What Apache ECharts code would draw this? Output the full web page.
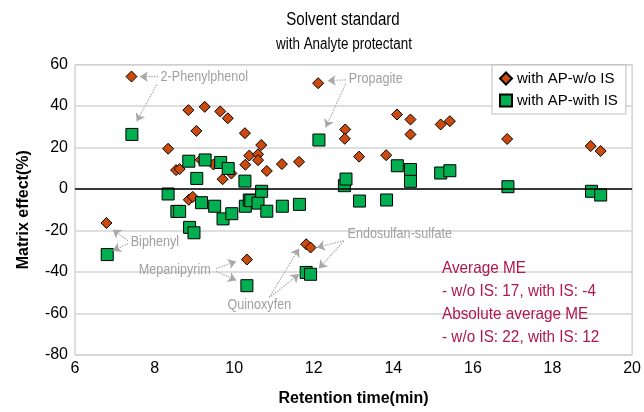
<!DOCTYPE html>
<html>
<head>
    <meta charset="utf-8">
    <title>Solvent standard</title>
    <style type="text/css">
        html, body { margin: 0; padding: 0; width: 644px; height: 412px; background: #fff; }
        #main { width: 644px; height: 412px; }
    </style>
    <script src="https://cdn.jsdelivr.net/npm/echarts@6/dist/echarts.min.js"></script>
</head>
<body>
<div id="main"></div>
<script type="text/javascript">
    // retention time (min), matrix effect (%)
    var woIS = [
        [6.79, -16.4], [7.42, 54.2], [8.34, 19.4], [8.54, 9.1], [8.63, 9.6],
        [8.85, 38.0], [8.86, -5.2], [8.96, -3.8], [9.05, 28.0], [9.16, 14.1],
        [9.26, 39.6], [9.48, 11.8], [9.65, 37.4], [9.71, 4.7], [9.84, 34.1],
        [9.93, 7.5], [10.27, 26.9], [10.28, 11.7], [10.32, -34.0], [10.38, 16.1],
        [10.6, 16.7], [10.6, 13.9], [10.68, 21.2], [10.82, 8.7], [11.2, 12.0],
        [11.63, 13.1], [11.81, -26.6], [11.92, -28.2], [12.11, 51.0], [12.79, 28.7],
        [12.78, 24.2], [13.14, 15.6], [13.82, 16.3], [14.09, 35.9], [14.43, 33.5],
        [14.43, 26.3], [15.19, 31.1], [15.42, 32.7], [16.86, 24.1], [18.96, 20.7],
        [19.21, 18.3]
    ];
    var withIS = [
        [6.81, -31.6], [7.43, 26.3], [8.34, -2.4], [8.56, -10.8], [8.63, -10.8],
        [8.86, 13.4], [8.88, -18.5], [8.99, -21.1], [9.06, 5.1], [9.18, -6.6],
        [9.27, 14.0], [9.51, -8.3], [9.66, 12.8], [9.72, -14.4], [9.85, 9.9],
        [9.94, -11.9], [10.27, 3.8], [10.28, -8.3], [10.32, -46.6], [10.38, -5.3],
        [10.42, -5.6], [10.6, -6.8], [10.69, -1.1], [10.82, -10.7], [11.21, -8.3],
        [11.64, -7.4], [11.81, -40.2], [11.92, -41.1], [12.13, 23.6], [12.77, 1.6],
        [12.81, 4.8], [13.15, -5.8], [13.83, -5.3], [14.1, 11.2], [14.43, 9.4],
        [14.43, 3.7], [15.19, 7.7], [15.42, 8.8], [16.88, 1.1], [18.98, -1.1],
        [19.21, -2.9]
    ];

    // compound labels: text anchor (left-middle) in data coords
    var labelNames = ['2-Phenylphenol', 'Propagite', 'Biphenyl', 'Mepanipyrim', 'Quinoxyfen', 'Endosulfan-sulfate'];
    var labelAt = [[8.15, 54.1], [12.88, 53.0], [7.4, -25.6], [7.6, -39.0], [9.83, -56.0], [12.85, -21.5]];
    // dotted arrows: [from, to]
    var arrows = [
        [[8.08, 54.1], [7.63, 54.1]], [[8.05, 50.2], [7.55, 32.5]],
        [[12.8, 52.6], [12.35, 52.2]], [[12.8, 50.7], [12.3, 29.7]],
        [[7.33, -24.9], [6.95, -19.6]], [[7.33, -26.3], [6.95, -29.7]],
        [[9.55, -38.3], [10.05, -34.9]], [[9.55, -39.7], [10.05, -44.0]],
        [[10.88, -52.2], [11.63, -28.7]], [[10.93, -51.7], [11.63, -41.1]],
        [[12.75, -24.9], [12.08, -28.2]], [[12.75, -25.2], [12.13, -38.3]]
    ];
    var statLines = ['Average ME', '- w/o IS: 17, with IS: -4', 'Absolute average ME', '- w/o IS: 22, with IS: 12'];

    var font = 'Liberation Sans, Arial, sans-serif';
    var narrow = 0.84; // reference uses a condensed face
    var myChart = echarts.init(document.getElementById('main'));

    var option = {
        animation: false,
        textStyle: { fontFamily: font },
        grid: { left: 75, right: 9, top: 64.5, bottom: 55, show: true, borderColor: '#bdbdbd', borderWidth: 1 },
        legend: {
            orient: 'vertical',
            left: 492, top: 65,
            backgroundColor: '#fff',
            borderColor: '#bdbdbd', borderWidth: 1,
            padding: [6, 8, 6, 7],
            itemGap: 7, itemWidth: 12, itemHeight: 12,
            textStyle: { fontSize: 15, color: '#000', fontFamily: font },
            data: ['with AP-w/o IS', 'with AP-with IS']
        },
        xAxis: {
            type: 'value', min: 6, max: 20, interval: 2,
            name: 'Retention time(min)', nameLocation: 'middle', nameGap: 36,
            nameTextStyle: { fontSize: 16, fontWeight: 'bold', color: '#000', fontFamily: font },
            axisLine: { onZero: false, show: false },
            axisTick: { show: false },
            splitLine: { show: false },
            axisLabel: { fontSize: 16, color: '#000', margin: 6, fontFamily: font }
        },
        yAxis: {
            type: 'value', min: -80, max: 60, interval: 20,
            name: 'Matrix effect(%)', nameLocation: 'middle', nameGap: 43,
            nameTextStyle: { fontSize: 16, fontWeight: 'bold', color: '#000', fontFamily: font },
            axisLine: { show: false },
            axisTick: { show: false },
            splitLine: { lineStyle: { color: '#d4d4d4', width: 1.5 } },
            axisLabel: { fontSize: 16, color: '#000', margin: 7, fontFamily: font }
        },
        series: [
            {
                name: 'with AP-w/o IS', type: 'scatter', symbol: 'diamond', symbolSize: 11,
                itemStyle: { color: '#cc4a0c', borderColor: '#000', borderWidth: 1, opacity: 1 },
                data: woIS,
                markLine: {
                    silent: true, symbol: 'none', label: { show: false },
                    lineStyle: { color: '#000', width: 1.5, type: 'solid' },
                    data: [{ yAxis: 0 }]
                }
            },
            {
                name: 'with AP-with IS', type: 'scatter', symbol: 'rect', symbolSize: 12,
                itemStyle: { color: '#00b050', borderColor: '#000', borderWidth: 1, opacity: 1 },
                data: withIS
            },
            {
                name: 'arrows', type: 'scatter', data: [], silent: true,
                markLine: {
                    silent: true, symbol: ['none', 'arrow'], symbolSize: 8,
                    label: { show: false },
                    lineStyle: { color: '#a8a8a8', width: 1.3, type: 'dotted' },
                    data: arrows.map(function (a) { return [{ coord: a[0] }, { coord: a[1] }]; })
                }
            }
        ]
    };
    myChart.setOption(option);

    var graphics = [
        { type: 'text', x: 343, y: 20, scaleX: narrow, style: { text: 'Solvent standard', font: '18px ' + font, fill: '#000', align: 'center', verticalAlign: 'middle' } },
        { type: 'text', x: 344, y: 45, scaleX: narrow, style: { text: 'with Analyte protectant', font: '16px ' + font, fill: '#000', align: 'center', verticalAlign: 'middle' } }
    ];
    labelNames.forEach(function (name, i) {
        var p = myChart.convertToPixel({ gridIndex: 0 }, labelAt[i]);
        graphics.push({ type: 'text', x: p[0], y: p[1], scaleX: narrow, style: { text: name, font: '15px ' + font, fill: '#a0a0a0', align: 'left', verticalAlign: 'middle' } });
    });
    statLines.forEach(function (line, i) {
        graphics.push({ type: 'text', x: 442, y: 268 + i * 23, scaleX: 0.9, style: { text: line, font: '17px ' + font, fill: '#b0184a', align: 'left', verticalAlign: 'middle' } });
    });
    myChart.setOption({ graphic: graphics });
</script>
</body>
</html>
